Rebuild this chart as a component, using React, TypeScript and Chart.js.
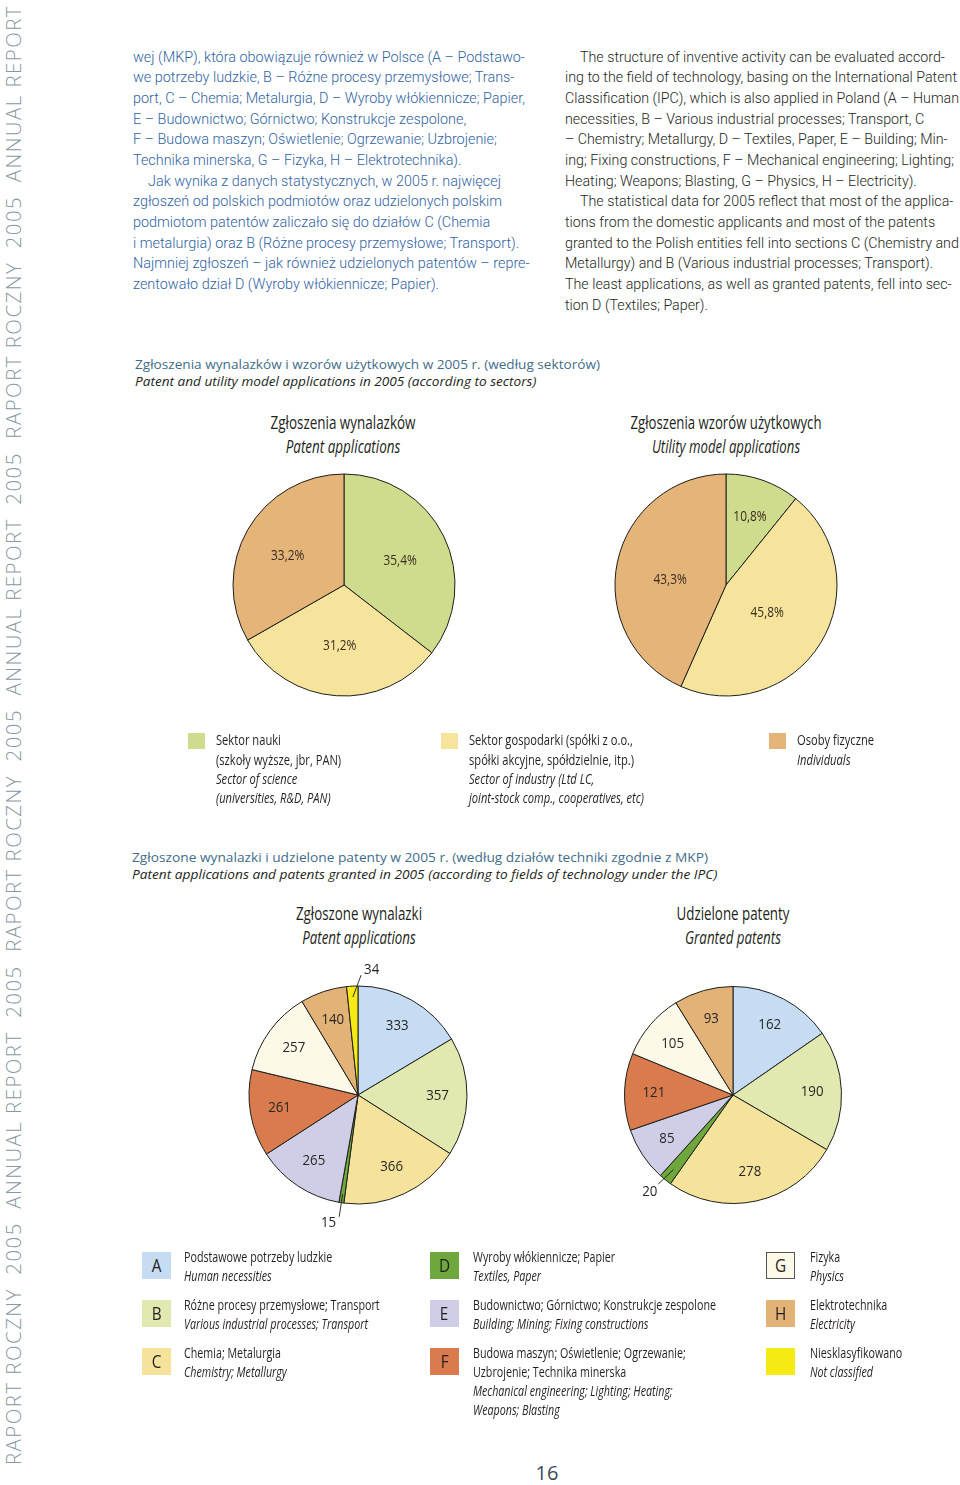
import React, { useEffect, useRef } from 'react';
import { Chart, registerables } from 'chart.js';
Chart.register(...registerables);

// ---------------- DATA ----------------
const sectorLabels = ['Sektor nauki', 'Sektor gospodarki', 'Osoby fizyczne'];
const patentSectorShares = [35.4, 31.2, 33.2];
const utilitySectorShares = [10.8, 45.8, 43.3];
const sectorColors = ['#cfdc8d', '#f6e49d', '#e4b479'];

const ipcLabels = ['A', 'B', 'C', 'D', 'E', 'F', 'G', 'H', 'Niesklasyfikowano'];
const patentApplicationsIpc = [333, 357, 366, 15, 265, 261, 257, 140, 34];
const grantedPatentsIpc = [162, 190, 278, 20, 85, 121, 105, 93];
const ipcColors = ['#c6dcf2', '#e2e9b0', '#f5e39b', '#6ea83c', '#d0cee6', '#d97b4d', '#fdf9e9', '#e3b277', '#f5ea14'];

const sectorLegendPl = [['Sektor nauki', '(szkoły wyższe, jbr, PAN)'], ['Sektor gospodarki (spółki z o.o.,', 'spółki akcyjne, spółdzielnie, itp.)'], ['Osoby fizyczne']];
const sectorLegendEn = [['Sector of science', '(universities, R&D, PAN)'], ['Sector of industry (Ltd LC,', 'joint-stock comp., cooperatives, etc)'], ['Individuals']];

const ipcNamesPl = [['Podstawowe potrzeby ludzkie'], ['Różne procesy przemysłowe; Transport'], ['Chemia; Metalurgia'], ['Wyroby włókiennicze; Papier'], ['Budownictwo; Górnictwo; Konstrukcje zespolone'], ['Budowa maszyn; Oświetlenie; Ogrzewanie;', 'Uzbrojenie; Technika minerska'], ['Fizyka'], ['Elektrotechnika'], ['Niesklasyfikowano']];
const ipcNamesEn = [['Human necessities'], ['Various industrial processes; Transport'], ['Chemistry; Metallurgy'], ['Textiles, Paper'], ['Building; Mining; Fixing constructions'], ['Mechanical engineering; Lighting; Heating;', 'Weapons; Blasting'], ['Physics'], ['Electricity'], ['Not classified']];

const bodyPl = [
  'wej (MKP), która obowiązuje również w Polsce (A – Podstawo-',
  'we potrzeby ludzkie, B – Różne procesy przemysłowe; Trans-',
  'port, C – Chemia; Metalurgia, D – Wyroby włókiennicze; Papier,',
  'E – Budownictwo; Górnictwo; Konstrukcje zespolone,',
  'F – Budowa maszyn; Oświetlenie; Ogrzewanie; Uzbrojenie;',
  'Technika minerska, G – Fizyka, H – Elektrotechnika).',
  'Jak wynika z danych statystycznych, w 2005 r. najwięcej',
  'zgłoszeń od polskich podmiotów oraz udzielonych polskim',
  'podmiotom patentów zaliczało się do działów C (Chemia',
  'i metalurgia) oraz B (Różne procesy przemysłowe; Transport).',
  'Najmniej zgłoszeń – jak również udzielonych patentów – repre-',
  'zentowało dział D (Wyroby włókiennicze; Papier).',
];
const bodyPlIndent = [6];
const bodyEn = [
  'The structure of inventive activity can be evaluated accord-',
  'ing to the field of technology, basing on the International Patent',
  'Classification (IPC), which is also applied in Poland (A – Human',
  'necessities, B – Various industrial processes; Transport, C',
  '– Chemistry; Metallurgy, D – Textiles, Paper, E – Building; Min-',
  'ing; Fixing constructions, F – Mechanical engineering; Lighting;',
  'Heating; Weapons; Blasting, G – Physics, H – Electricity).',
  'The statistical data for 2005 reflect that most of the applica-',
  'tions from the domestic applicants and most of the patents',
  'granted to the Polish entities fell into sections C (Chemistry and',
  'Metallurgy) and B (Various industrial processes; Transport).',
  'The least applications, as well as granted patents, fell into sec-',
  'tion D (Textiles; Paper).',
];
const bodyEnIndent = [0, 7];

const spineText = 'RAPORT ROCZNY  2005  ANNUAL REPORT  2005  RAPORT ROCZNY  2005  ANNUAL REPORT  2005  RAPORT ROCZNY  2005  ANNUAL REPORT';

// ---------------- HELPERS ----------------
type Fnt = { family: string; size: number; weight?: number };
let mctx: CanvasRenderingContext2D | null = null;
function fontStr(f: Fnt, italic = false) {
  return `${italic ? 'italic ' : ''}${f.weight ?? 400} ${f.size}px ${f.family}`;
}
function measure(text: string, f: Fnt, italic = false) {
  if (!mctx) mctx = document.createElement('canvas').getContext('2d');
  mctx!.font = fontStr(f, italic);
  return mctx!.measureText(text).width;
}
function fit(text: string, f: Fnt, target: number, italic = false) {
  const w = measure(text, f, italic);
  return w > 0 ? target / w : 1;
}

type Ln = { t: string; it?: boolean; c?: string; ind?: number };
function Block(props: { x: number; y: number; lh: number; f: Fnt; color: string; lines: Ln[]; scale: number; center?: boolean }) {
  const { x, y, lh, f, color, lines, scale, center } = props;
  return (
    <div style={{
      position: 'absolute', left: center ? x - 300 : x, top: y, width: center ? 600 : undefined,
      textAlign: center ? 'center' : 'left', transform: `scaleX(${scale})`, transformOrigin: center ? '50% 0' : '0 0',
      fontFamily: f.family, fontSize: f.size, fontWeight: f.weight ?? 400, color, whiteSpace: 'nowrap', lineHeight: lh + 'px',
    }}>
      {lines.map((l, i) => (
        <div key={i} style={{ height: lh, fontStyle: l.it ? 'italic' : 'normal', color: l.c || color, paddingLeft: l.ind ? l.ind / scale : 0 }}>{l.t}</div>
      ))}
    </div>
  );
}

type Leader = { r0: number; r1: number; da: number; align: CanvasTextAlign; dx: number; dy: number };
type LabelPos = { f: number; da?: number; leader?: Leader };

function PieChart(props: { cx: number; cy: number; r: number; labels: string[]; values: number[]; colors: string[]; fmt: (v: number) => string; pos: LabelPos[]; font: string; sx: number; textColor: string }) {
  const ref = useRef<HTMLCanvasElement>(null);
  const S = 320;
  useEffect(() => {
    const { r, labels, values, colors, fmt, pos, font, sx, textColor } = props;
    const labelPlugin = {
      id: 'sliceLabels',
      afterDatasetsDraw(chart: any) {
        const ctx: CanvasRenderingContext2D = chart.ctx;
        const meta = chart.getDatasetMeta(0);
        meta.data.forEach((arc: any, i: number) => {
          const p = pos[i];
          if (!p) return;
          const { x, y, startAngle, endAngle, outerRadius } = arc.getProps(['x', 'y', 'startAngle', 'endAngle', 'outerRadius'], true);
          const mid = (startAngle + endAngle) / 2;
          const txt = fmt(values[i]);
          ctx.save();
          ctx.font = font;
          ctx.fillStyle = textColor;
          ctx.textBaseline = 'middle';
          let tx: number, ty: number;
          let align: CanvasTextAlign = 'center';
          if (p.leader) {
            const L = p.leader;
            const a1 = mid + (L.da * Math.PI) / 180;
            const x0 = x + Math.cos(mid) * outerRadius * L.r0;
            const y0 = y + Math.sin(mid) * outerRadius * L.r0;
            const x1 = x + Math.cos(a1) * outerRadius * L.r1;
            const y1 = y + Math.sin(a1) * outerRadius * L.r1;
            ctx.strokeStyle = '#1e1e1c';
            ctx.lineWidth = 0.9;
            ctx.beginPath();
            ctx.moveTo(x0, y0);
            ctx.lineTo(x1, y1);
            ctx.stroke();
            tx = x1 + L.dx; ty = y1 + L.dy; align = L.align;
          } else {
            const a = mid + ((p.da || 0) * Math.PI) / 180;
            tx = x + Math.cos(a) * outerRadius * p.f;
            ty = y + Math.sin(a) * outerRadius * p.f;
          }
          ctx.translate(tx, ty);
          ctx.scale(sx, 1);
          ctx.textAlign = align;
          ctx.fillText(txt, 0, 0);
          ctx.restore();
        });
      },
    };
    const chart = new Chart(ref.current!, {
      type: 'pie',
      data: {
        labels,
        datasets: [{ data: values, backgroundColor: colors, borderColor: '#1e1e1c', borderWidth: 1, radius: r } as any],
      },
      options: {
        animation: false,
        responsive: false,
        events: [],
        layout: { padding: 0 },
        plugins: { legend: { display: false }, tooltip: { enabled: false } },
      },
      plugins: [labelPlugin],
    });
    return () => chart.destroy();
  }, []);
  return <canvas ref={ref} width={S} height={S} style={{ position: 'absolute', left: props.cx - S / 2, top: props.cy - S / 2, width: S, height: S }} />;
}

// ---------------- APP ----------------
const F_BODY: Fnt = { family: 'Roboto', size: 15.5, weight: 300 };
const F_T: Fnt = { family: '"Open Sans"', size: 13.5 };
const F_PT: Fnt = { family: '"Open Sans"', size: 18 };
const F_LEG: Fnt = { family: '"Open Sans"', size: 15 };
const F_SPINE: Fnt = { family: '"Open Sans"', size: 21, weight: 300 };

const fmtShare = (v: number) => v.toFixed(1).replace('.', ',') + '%';
const fmtCount = (v: number) => String(v);

export default function App() {
  useEffect(() => {
    document.body.style.margin = '0';
  }, []);

  const BLUE = '#2f63a3';
  const INK = '#231f20';

  const sLeft = fit(bodyPl[2], F_BODY, 392);
  const sRight = fit(bodyEn[1], F_BODY, 392);
  const sT1 = fit('Zgłoszenia wynalazków i wzorów użytkowych w 2005 r. (według sektorów)', F_T, 465);
  const sT2 = fit('Zgłoszone wynalazki i udzielone patenty w 2005 r. (według działów techniki zgodnie z MKP)', F_T, 576);
  const sLeg1 = fit('joint-stock comp., cooperatives, etc)', F_LEG, 175, true);
  const sLeg2 = fit('Budownictwo; Górnictwo; Konstrukcje zespolone', F_LEG, 243);
  const spineLS = 1.5;
  const sSpine = 1460 / (measure(spineText, F_SPINE) + spineLS * spineText.length);

  const pieTitles = [
    { x: 343, y: 411, pl: 'Zgłoszenia wynalazków', en: 'Patent applications', w: 145 },
    { x: 726, y: 411, pl: 'Zgłoszenia wzorów użytkowych', en: 'Utility model applications', w: 191 },
    { x: 359, y: 902, pl: 'Zgłoszone wynalazki', en: 'Patent applications', w: 126 },
    { x: 733, y: 902, pl: 'Udzielone patenty', en: 'Granted patents', w: 113 },
  ];

  const leg1SwatchX = [188, 441, 769];
  const leg1TextX = [216, 469, 797];
  const leg2BoxX = [142, 430, 766];
  const leg2TextX = [184, 473, 810];
  const leg2RowY = [1252, 1300, 1348];

  return (
    <div style={{ position: 'absolute', left: 0, top: 0, width: 960, height: 1485, overflow: 'hidden', background: '#fff' }}>
      {/* spine */}
      <div style={{
        position: 'absolute', left: 0, top: 0, height: 28, lineHeight: '28px', whiteSpace: 'pre',
        fontFamily: F_SPINE.family, fontSize: F_SPINE.size, fontWeight: F_SPINE.weight, letterSpacing: spineLS,
        color: '#8a98a3', transformOrigin: '0 0', transform: `translate(-1px, 1465px) rotate(-90deg) scaleX(${sSpine})`,
      }}>{spineText}</div>

      {/* body text */}
      <Block x={133} y={46.6} lh={20.7} f={F_BODY} color={BLUE} scale={sLeft}
        lines={bodyPl.map((t, i) => ({ t, ind: bodyPlIndent.includes(i) ? 15 : 0 }))} />
      <Block x={565} y={46.6} lh={20.7} f={F_BODY} color={INK} scale={sRight}
        lines={bodyEn.map((t, i) => ({ t, ind: bodyEnIndent.includes(i) ? 15 : 0 }))} />

      {/* section titles */}
      <Block x={135} y={355.5} lh={17} f={F_T} color={INK} scale={sT1}
        lines={[{ t: 'Zgłoszenia wynalazków i wzorów użytkowych w 2005 r. (według sektorów)', c: '#3f6d8a' }, { t: 'Patent and utility model applications in 2005 (according to sectors)', it: true }]} />
      <Block x={132} y={848.5} lh={17.5} f={F_T} color={INK} scale={sT2}
        lines={[{ t: 'Zgłoszone wynalazki i udzielone patenty w 2005 r. (według działów techniki zgodnie z MKP)', c: '#3f6d8a' }, { t: 'Patent applications and patents granted in 2005 (according to fields of technology under the IPC)', it: true }]} />

      {/* pie titles */}
      {pieTitles.map((p, i) => (
        <Block key={i} center x={p.x} y={p.y} lh={23.5} f={F_PT} color={INK} scale={fit(p.pl, F_PT, p.w)}
          lines={[{ t: p.pl }, { t: p.en, it: true }]} />
      ))}

      {/* pies */}
      <PieChart cx={343.5} cy={584.5} r={111} labels={sectorLabels} values={patentSectorShares} colors={sectorColors}
        fmt={fmtShare} pos={[{ f: 0.55, da: 3 }, { f: 0.55 }, { f: 0.57, da: -3 }]} font={'14px "Open Sans"'} sx={0.85} textColor="#3a2c1e" />
      <PieChart cx={726} cy={585} r={111} labels={sectorLabels} values={utilitySectorShares} colors={sectorColors}
        fmt={fmtShare} pos={[{ f: 0.65 }, { f: 0.45, da: 3 }, { f: 0.505, da: -7 }]} font={'14px "Open Sans"'} sx={0.85} textColor="#3a2c1e" />
      <PieChart cx={358} cy={1094.5} r={109} labels={ipcLabels} values={patentApplicationsIpc} colors={ipcColors}
        fmt={fmtCount}
        pos={[{ f: 0.73 }, { f: 0.73 }, { f: 0.73 },
          { f: 0, leader: { r0: 0.92, r1: 1.13, da: 0, align: 'right', dx: -3, dy: 6 } },
          { f: 0.73 }, { f: 0.73 }, { f: 0.73 }, { f: 0.73 },
          { f: 0, leader: { r0: 0.9, r1: 1.1, da: 4.5, align: 'left', dx: 3, dy: -5 } }]}
        font={'14px "Open Sans"'} sx={0.95} textColor="#262626" />
      <PieChart cx={732.5} cy={1094.5} r={108.5} labels={ipcLabels.slice(0, 8)} values={grantedPatentsIpc} colors={ipcColors.slice(0, 8)}
        fmt={fmtCount}
        pos={[{ f: 0.73 }, { f: 0.73 }, { f: 0.73 },
          { f: 0, leader: { r0: 0.88, r1: 1.07, da: 1.4, align: 'right', dx: -1, dy: 8 } },
          { f: 0.73 }, { f: 0.73 }, { f: 0.73 }, { f: 0.73 }]}
        font={'14px "Open Sans"'} sx={0.95} textColor="#262626" />

      {/* legend 1 */}
      {sectorLabels.map((_, i) => (
        <React.Fragment key={i}>
          <div style={{ position: 'absolute', left: leg1SwatchX[i], top: 733, width: 17, height: 16, background: sectorColors[i] }} />
          <Block x={leg1TextX[i]} y={730.3} lh={19.3} f={F_LEG} color={INK} scale={sLeg1}
            lines={[...sectorLegendPl[i].map((t) => ({ t })), ...sectorLegendEn[i].map((t) => ({ t, it: true }))]} />
        </React.Fragment>
      ))}

      {/* legend 2 */}
      {ipcLabels.map((lab, i) => {
        const col = Math.floor(i / 3);
        const row = i % 3;
        const isLetter = lab.length === 1;
        return (
          <React.Fragment key={i}>
            <div style={{
              position: 'absolute', left: leg2BoxX[col], top: leg2RowY[row], width: 29, height: 27, background: ipcColors[i],
              boxSizing: 'border-box', border: i === 6 ? '1px solid #555' : 'none',
              textAlign: 'center', lineHeight: i === 6 ? '25px' : '27px', fontFamily: '"Open Sans"', fontSize: 18, color: INK,
            }}>
              <span style={{ display: 'inline-block', transform: 'scaleX(0.85)' }}>{isLetter ? lab : ''}</span>
            </div>
            <Block x={leg2TextX[col]} y={leg2RowY[row] - 5.5} lh={19} f={F_LEG} color={INK} scale={sLeg2}
              lines={[...ipcNamesPl[i].map((t) => ({ t })), ...ipcNamesEn[i].map((t) => ({ t, it: true }))]} />
          </React.Fragment>
        );
      })}

      {/* page number */}
      <div style={{ position: 'absolute', left: 507, top: 1459, width: 80, textAlign: 'center', fontFamily: '"Open Sans"', fontSize: 20, lineHeight: '28px', color: '#3c4a56' }}>16</div>
    </div>
  );
}
